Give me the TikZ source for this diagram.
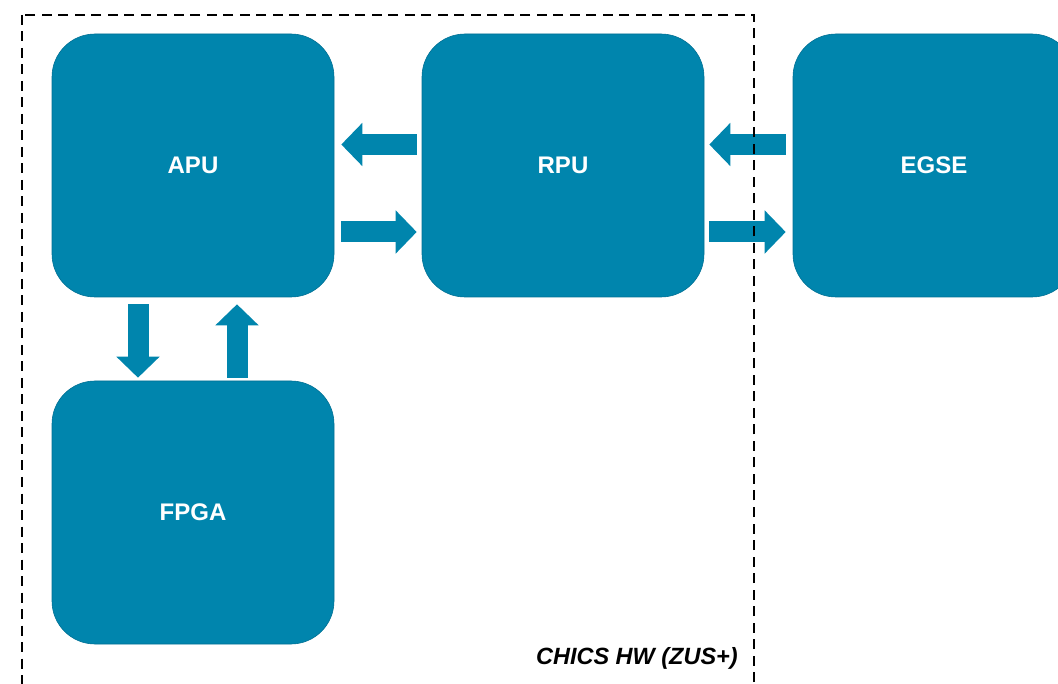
\documentclass[tikz,border=0pt]{standalone}
\usepackage{fontspec}
\setmainfont{Liberation Sans}
\usetikzlibrary{arrows.meta}
\definecolor{unitblue}{RGB}{0,133,173}
\definecolor{unitedge}{RGB}{0,112,148}
\begin{document}
\begin{tikzpicture}[x=1pt,y=-1pt,
  unit/.style={fill=unitblue, draw=unitedge, line width=0.6pt,
    rounded corners=43pt, minimum width=282pt, minimum height=263pt,
    inner sep=0pt, text=white, font=\bfseries\fontsize{24}{28}\selectfont},
  flow/.style={draw=unitblue, line width=21pt,
    -{Triangle[length=21pt,width=42pt]}},
  frame/.style={draw=black, line width=2.6pt, dash pattern=on 10pt off 6.5pt}]
\useasboundingbox (0,0) rectangle (1058,684);
\clip (0,0) rectangle (1058,684);

% processing units
\node[unit] (apu)  at (193,165.5) {APU};
\node[unit] (rpu)  at (563,165.5) {RPU};
\node[unit] (egse) at (934,165.5) {EGSE};
\node[unit] (fpga) at (193,512.5) {FPGA};

% data flows between the units
\draw[flow, shorten <=5pt, shorten >=7pt] ([yshift=21pt]rpu.west) -- ([yshift=21pt]apu.east);
\draw[flow, shorten <=7pt, shorten >=5pt] ([yshift=-66.5pt]apu.east) -- ([yshift=-66.5pt]rpu.west);
\draw[flow, shorten <=7pt, shorten >=5pt] ([yshift=21pt]egse.west) -- ([yshift=21pt]rpu.east);
\draw[flow, shorten <=5pt, shorten >=7pt] ([yshift=-66.5pt]rpu.east) -- ([yshift=-66.5pt]egse.west);
\draw[flow, shorten <=7pt, shorten >=3pt] ([xshift=-55pt]apu.south) -- ([xshift=-55pt]fpga.north);
\draw[flow, shorten <=3pt, shorten >=7pt] ([xshift=44pt]fpga.north) -- ([xshift=44pt]apu.south);

% hardware boundary
\draw[frame] (22,15) rectangle (754,692);
\node[anchor=base east, inner sep=0pt,
  font=\bfseries\itshape\fontsize{23.5}{27}\selectfont] (hwlabel) at (738,664) {CHICS HW (ZUS+)};
\end{tikzpicture}
\end{document}
